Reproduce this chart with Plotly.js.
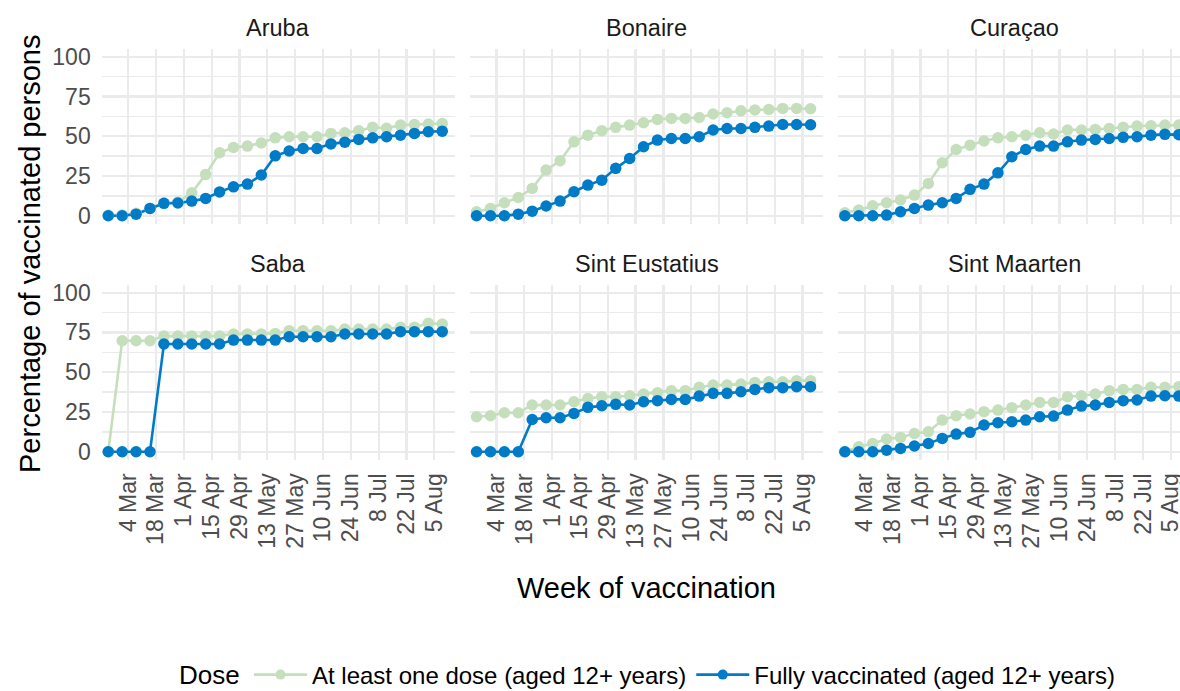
<!DOCTYPE html>
<html>
<head>
<meta charset="utf-8">
<script src="https://cdn.plot.ly/plotly-3.0.1.min.js"></script>
<style>
  html, body { margin: 0; padding: 0; background: #fff; overflow: hidden; }
  #chart { width: 1180px; height: 691px; }
</style>
</head>
<body>
<div id="chart"></div>
<script>
// ---------- data ----------
const weeks = ['2021-02-22','2021-03-01','2021-03-08','2021-03-15','2021-03-22','2021-03-29',
  '2021-04-05','2021-04-12','2021-04-19','2021-04-26','2021-05-03','2021-05-10','2021-05-17',
  '2021-05-24','2021-05-31','2021-06-07','2021-06-14','2021-06-21','2021-06-28','2021-07-05',
  '2021-07-12','2021-07-19','2021-07-26','2021-08-02','2021-08-09'];

const islands = ['Aruba', 'Bonaire', 'Curaçao', 'Saba', 'Sint Eustatius', 'Sint Maarten'];

const seriesNames = ['At least one dose (aged 12+ years)', 'Fully vaccinated (aged 12+ years)'];
const legendTitle = 'Dose';

const arubaFirst   = [0.5,0.5,1.5,4.6,8.0,8.6,14.5,26,39.6,43,43.8,45.8,49,49.7,49.7,49.7,51.8,52.2,53.5,55.6,55,57,57.4,57.7,58];
const arubaFull    = [0,0,1,4.6,7.8,8,9.2,10.9,15,18.2,19.9,25.6,37.7,40.7,42.3,42.3,45.2,46.3,48,49,49.7,50.7,51.8,52.8,53.2];

const bonaireFirst = [2.5,4.6,8.2,11.5,17.2,28.7,34.6,46.5,50.7,53.5,55.6,57,58.5,60.6,61.2,61.2,61.8,64,64.8,66,66.5,66.9,67.5,67.5,67.3];
const bonaireFull  = [0,0,0,1,2.9,6.1,9.2,15.1,19.3,22.4,29.8,36,43.4,47.6,48.6,48.6,49.7,53.9,54.9,54.9,55.6,56.4,57.4,57.4,57.2];

const curacaoFirst = [1.9,3.6,6.3,8.2,9.9,13,20.3,33.3,41.7,44.4,47,49,49.7,50.7,52.2,51.4,53.9,53.9,54.3,54.9,55.6,56.4,56.6,57,57];
const curacaoFull  = [0,0,0,0.4,2.5,4.6,6.7,8.2,10.9,16.6,19.9,27,37.1,41.7,43.8,43.8,46.5,47.6,48,48.6,49.3,49.7,50.7,51.2,51];

const sabaFirst    = [0,69.8,69.8,69.8,72.7,72.7,72.7,72.7,72.7,74,74,74,74.4,76.1,76.1,76.1,76.1,77.1,77.1,77.1,77.1,78.2,78.2,80.7,80.3];
const sabaFull     = [0,0,0,0,67.7,67.7,67.7,67.7,67.7,70.2,70.2,70.2,70.2,72.3,72.3,72.3,72.3,74,74,74,74,75.5,75.5,75.5,75.5];

const eustatiusFirst = [22,22.6,24.5,24.5,29.4,29.4,29.4,31.4,33.5,34.6,34.6,35.2,36.3,37.1,38.4,38.4,40.5,41.9,41.9,42.6,43.6,44,44,44.7,44.7];
const eustatiusFull  = [0,0,0,0,20.3,21.4,21.4,24.1,27.9,28.9,29.8,29.4,31.4,32.1,32.9,32.9,35,36.7,36.7,37.7,39.2,40.3,40.3,40.9,40.9];

const maartenFirst = [0,3.1,5.2,8,9,11.5,12.6,19.9,22.6,23.7,25.2,26.2,27.7,29.4,31,31,34.6,35.2,36.3,38.4,39.2,39.2,40.5,40.5,40.9];
const maartenFull  = [0,0,0,1,2.1,3.6,5.2,8.4,11.1,12.2,16.8,18.2,18.9,19.9,22,22.4,26.2,28.7,29.4,31,32.1,32.5,35,35.2,35];

const firstDose = [arubaFirst, bonaireFirst, curacaoFirst, sabaFirst, eustatiusFirst, maartenFirst];
const fullVacc  = [arubaFull, bonaireFull, curacaoFull, sabaFull, eustatiusFull, maartenFull];

const xTickVals = ['2021-03-04','2021-03-18','2021-04-01','2021-04-15','2021-04-29','2021-05-13',
  '2021-05-27','2021-06-10','2021-06-24','2021-07-08','2021-07-22','2021-08-05'];
const xTickText = ['4 Mar','18 Mar','1 Apr','15 Apr','29 Apr','13 May','27 May','10 Jun','24 Jun','8 Jul','22 Jul','5 Aug'];
const yTickVals = [0, 25, 50, 75, 100];
const yMinorVals = [12.5, 37.5, 62.5, 87.5];

// ---------- styling ----------
const W = 1180, H = 691;
const GREEN = '#c5dfbd';
const BLUE = '#007bc7';
const FONT = 'Liberation Sans, Arial, Helvetica, sans-serif';
const GRID = '#ebebeb';

const colDom = [[101.7, 455.0], [470.0, 823.3], [838.3, 1180]];
const rowDom = [[48.8, 223.7], [284.7, 459.7]];
const xRangeFull = ['2021-02-18 16:48', '2021-08-15 10:00'];
const xRangeCut  = ['2021-02-18 16:48', '2021-08-09 14:24'];
const legendY = 675;

const traces = [];
const layout = {
  width: W, height: H,
  margin: {l: 0, r: 0, t: 0, b: 0, pad: 0, autoexpand: false},
  paper_bgcolor: '#fff', plot_bgcolor: '#fff',
  font: {family: FONT, color: '#000'},
  showlegend: true,
  legend: {
    orientation: 'h', x: 249 / W, xanchor: 'left', y: (H - legendY) / H, yanchor: 'middle',
    font: {size: 24, color: '#000'},
    itemwidth: 53, bgcolor: 'rgba(0,0,0,0)'
  },
  annotations: []
};

islands.forEach((name, i) => {
  const r = Math.floor(i / 3), c = i % 3;
  const sfx = i === 0 ? '' : String(i + 1);
  const xa = 'x' + sfx, ya = 'y' + sfx;
  const xd = colDom[c], yd = rowDom[r];
  layout['xaxis' + sfx] = {
    type: 'date', domain: [xd[0] / W, xd[1] / W], anchor: ya,
    range: c === 2 ? xRangeCut : xRangeFull,
    tickmode: 'array', tickvals: xTickVals, ticktext: xTickText,
    tickangle: -90, showticklabels: r === 1, ticks: '',
    tickfont: {size: 23, color: '#4d4d4d', family: FONT},
    ticklabelstandoff: 8, ticklabeloverflow: 'allow', automargin: false,
    showgrid: true, gridcolor: GRID, gridwidth: 2.2,
    zeroline: false, showline: false, fixedrange: true
  };
  layout['yaxis' + sfx] = {
    domain: [(H - yd[1]) / H, (H - yd[0]) / H], anchor: xa,
    range: [-5, 105], tickmode: 'array', tickvals: yTickVals,
    showticklabels: c === 0, ticks: '',
    tickfont: {size: 23, color: '#4d4d4d', family: FONT},
    ticklabelstandoff: 10, automargin: false,
    showgrid: true, gridcolor: GRID, gridwidth: 2.2,
    minor: {tickmode: 'array', tickvals: yMinorVals, showgrid: true, gridcolor: GRID, gridwidth: 1.6, ticks: ''},
    zeroline: false, showline: false, fixedrange: true
  };
  // strip title
  layout.annotations.push({
    text: name, xref: 'paper', yref: 'paper',
    x: (xd[0] + (c === 2 ? xd[0] + 353.3 : xd[1])) / 2 / W, y: (H - (yd[0] - 21)) / H,
    xanchor: 'center', yanchor: 'middle', showarrow: false,
    font: {size: 23.5, color: '#1a1a1a', family: FONT}
  });
  // lines first (green, blue), then points (green, blue)
  traces.push({x: weeks, y: firstDose[i], xaxis: xa, yaxis: ya, type: 'scatter', mode: 'lines',
    line: {color: GREEN, width: 2.6}, showlegend: false, hoverinfo: 'skip'});
  traces.push({x: weeks, y: fullVacc[i], xaxis: xa, yaxis: ya, type: 'scatter', mode: 'lines',
    line: {color: BLUE, width: 2.6}, showlegend: false, hoverinfo: 'skip'});
  traces.push({x: weeks, y: firstDose[i], xaxis: xa, yaxis: ya, type: 'scatter', mode: 'markers',
    marker: {color: GREEN, size: 11.5}, showlegend: false, name: seriesNames[0]});
  traces.push({x: weeks, y: fullVacc[i], xaxis: xa, yaxis: ya, type: 'scatter', mode: 'markers',
    marker: {color: BLUE, size: 11.5}, showlegend: false, name: seriesNames[1]});
});

// legend entries (line + point key, as in the original)
traces.push({x: [null], y: [null], xaxis: 'x', yaxis: 'y', type: 'scatter', mode: 'lines+markers',
  name: seriesNames[0], line: {color: GREEN, width: 2.6}, marker: {color: GREEN, size: 10}, showlegend: true});
traces.push({x: [null], y: [null], xaxis: 'x', yaxis: 'y', type: 'scatter', mode: 'lines+markers',
  name: seriesNames[1], line: {color: BLUE, width: 2.6}, marker: {color: BLUE, size: 10}, showlegend: true});

// legend title
layout.annotations.push({
  text: legendTitle, xref: 'paper', yref: 'paper',
  x: 177 / W, y: (H - legendY) / H, xanchor: 'left', yanchor: 'middle',
  showarrow: false, font: {size: 26, color: '#000', family: FONT}
});

// axis titles
layout.annotations.push({
  text: 'Percentage of vaccinated persons', xref: 'paper', yref: 'paper',
  x: 30 / W, y: (H - 254) / H, xanchor: 'center', yanchor: 'middle', textangle: -90,
  showarrow: false, font: {size: 29, color: '#000', family: FONT}
});
layout.annotations.push({
  text: 'Week of vaccination', xref: 'paper', yref: 'paper',
  x: 646.6 / W, y: (H - 588) / H, xanchor: 'center', yanchor: 'middle',
  showarrow: false, font: {size: 29, color: '#000', family: FONT}
});

Plotly.newPlot('chart', traces, layout, {displayModeBar: false, staticPlot: true});
</script>
</body>
</html>
